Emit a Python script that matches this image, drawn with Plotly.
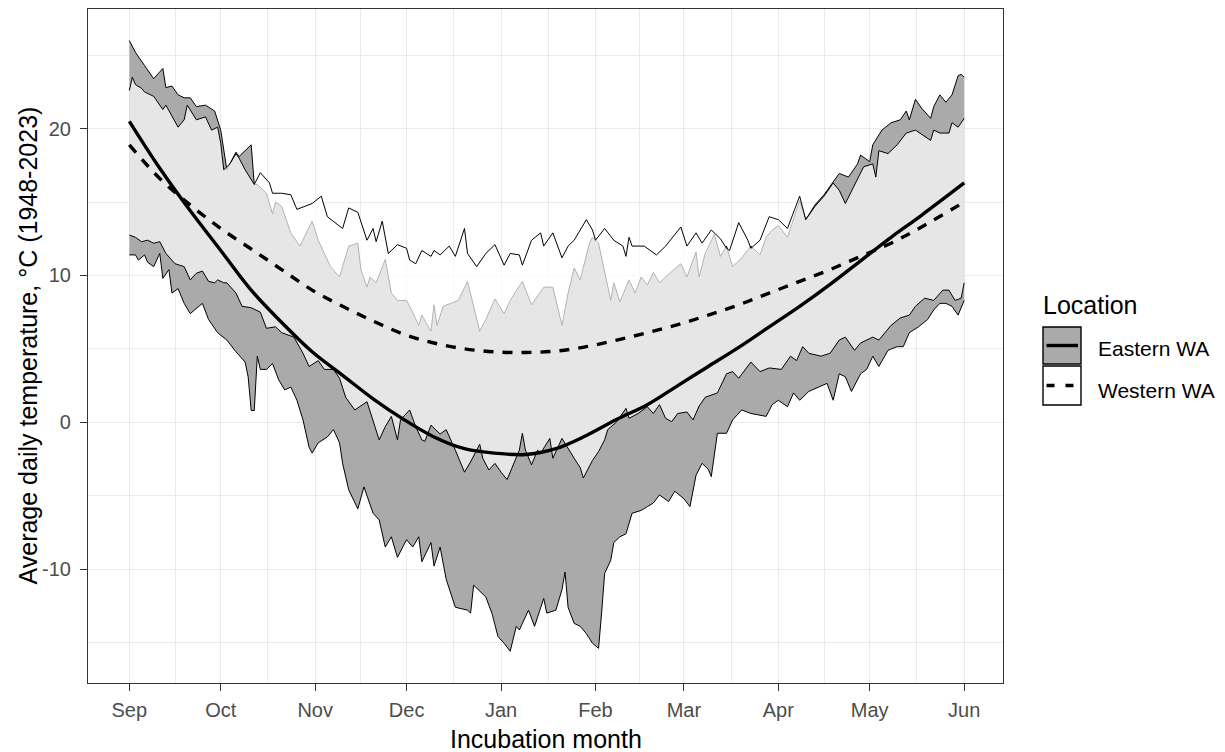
import plotly.graph_objects as go

# ---------------- data (day offset from 1 Sep; 1 Jun = day 274) ----------------
month_days = [0, 30, 61, 91, 122, 153, 182, 213, 243, 274]
month_labels = ["Sep", "Oct", "Nov", "Dec", "Jan", "Feb", "Mar", "Apr", "May", "Jun"]
y_ticks = [-10, 0, 10, 20]
y_minor = [-15, -5, 5, 15, 25]

east_hi_day = [0,1,2,5,8,11,12,14,16,18,20,22,25,28,30,32,35,36,40,41,42,45,47,48,50,53,56,60,62,66,
               69,72,75,76,78,79,81,84,86,88,91,93,95,96,99,100,101,103,108,111,115,117,120,123,125,129,132,136,139,142,
               144,146,148,151,152,154,158,159,161,164,166,168,170,172,174,176,181,183,186,187,189,192,194,196,198,201,204,207,209,211,
               213,216,220,222,225,228,231,233,236,239,240,243,244,247,250,253,255,256,258,260,263,264,266,268,270,272,273,274]
east_hi = [26.0,25.6,25.2,24.3,23.4,24.1,22.8,22.9,22.3,22.1,22.1,21.5,21.6,21.2,19.9,17.2,18.4,18.1,18.9,16.2,
           16.2,15.6,14.2,15.0,14.7,12.9,12.0,13.7,12.4,10.6,9.9,12.0,12.2,10.4,9.2,9.9,9.5,11.1,8.8,8.3,
           8.3,7.5,6.6,7.3,6.2,8.0,6.6,7.9,8.3,9.6,6.2,7.0,8.4,7.4,8.3,9.6,8.0,9.2,9.2,6.6,
           8.8,10.5,9.7,12.2,12.6,12.2,8.3,9.5,8.2,9.7,8.8,9.9,9.35,10.2,9.5,9.9,10.8,9.9,11.6,9.9,
           11.5,12.8,11.3,12.0,10.6,11.2,12.0,11.4,12.6,13.1,13.4,12.6,15.1,13.8,14.8,15.5,16.4,16.95,16.7,17.6,
           18.2,17.75,18.9,19.9,20.4,20.6,21.2,20.6,22.0,21.4,20.7,21.5,22.3,21.8,22.3,23.6,23.7,23.5]

east_lo_day = [0,2,3,5,6,8,10,11,13,14,16,18,20,24,26,29,32,35,38,39,40,41,42,43,45,47,49,51,53,55,
               57,59,60,62,65,67,69,70,72,75,77,80,82,84,86,88,91,93,95,96,99,100,102,104,107,111,112,113,117,119,
               121,123,125,127,128,131,133,136,137,140,142,143,144,146,148,150,152,154,155,156,158,159,161,163,165,168,170,172,174,177,
               179,182,184,186,188,190,191,193,196,198,201,204,209,211,213,216,218,220,223,226,229,231,233,235,237,240,242,244,246,249,
               252,254,256,259,262,264,266,268,270,272,274]
east_lo = [11.4,11.4,11.05,11.4,10.9,10.6,11.5,9.8,10.4,8.8,9.1,8.1,7.4,8.1,7.0,6.1,5.6,4.8,4.1,3.1,
           0.8,0.8,4.5,3.6,3.6,4.0,2.9,2.2,2.4,1.5,0.16,-1.7,-2.1,-1.4,-1.0,-0.5,-1.4,-2.8,-4.6,-5.9,
           -4.4,-6.2,-6.65,-8.5,-7.8,-9.2,-8.0,-8.5,-7.8,-9.5,-8.2,-9.8,-8.5,-10.7,-12.6,-12.8,-13.0,-11.1,-11.9,-13.0,
           -14.6,-15.05,-15.6,-13.9,-14.15,-12.8,-13.9,-12.0,-13.0,-12.8,-11.4,-10.2,-12.6,-13.7,-13.9,-14.4,-15.05,-15.4,-13.0,-10.3,
           -9.4,-8.2,-7.8,-7.6,-6.2,-6.0,-5.75,-5.5,-4.95,-5.4,-4.7,-5.2,-5.75,-3.6,-2.8,-3.2,-3.7,-0.75,-0.75,0.16,
           0.84,0.6,0.4,1.2,1.5,1.06,2.0,1.5,2.1,2.4,2.65,1.5,3.3,3.1,2.1,3.3,3.6,4.5,3.8,4.9,
           5.15,5.15,6.1,6.5,7.0,7.65,8.1,8.1,7.9,7.3,8.3]

west_hi_day = [0,1,2,4,5,8,11,12,16,18,19,22,25,27,29,30,31,33,35,36,38,41,43,46,47,50,53,55,60,63,
               65,70,72,75,78,80,81,83,85,88,91,92,94,96,99,100,102,105,107,110,111,114,117,120,123,125,128,129,132,135,
               136,139,142,144,146,148,150,152,153,156,159,162,163,164,165,169,173,176,181,183,186,188,191,194,196,197,200,203,204,207,
               210,213,216,220,222,225,228,231,233,235,239,241,244,245,246,249,252,255,258,263,264,266,269,270,272,274]
west_hi = [22.6,23.5,23.0,22.75,22.5,22.2,21.3,21.6,20.1,20.6,21.6,20.6,20.8,19.9,20.1,19.0,17.2,17.6,18.3,18.0,
           17.2,16.2,17.0,16.3,15.6,15.6,15.5,14.5,14.9,15.4,14.0,13.2,14.6,14.3,12.4,13.2,12.3,13.7,11.5,12.1,
           11.85,11.05,10.8,11.7,11.3,11.7,11.4,12.0,11.3,13.2,11.5,10.6,11.5,12.1,10.7,11.5,11.4,10.7,12.4,12.9,
           12.0,12.9,11.2,12.0,12.4,13.1,13.8,13.1,12.4,13.2,12.4,12.0,11.3,12.6,12.0,12.0,11.4,12.0,13.3,12.0,
           12.9,12.2,13.1,12.5,11.85,11.7,13.6,12.4,11.85,12.4,14.0,13.8,13.2,15.4,13.8,14.7,15.4,16.3,15.8,14.9,
           16.5,17.4,17.6,16.7,18.5,18.3,18.9,19.7,19.9,19.2,19.9,19.7,19.7,20.4,20.1,20.7]

west_lo_day = [0,2,4,6,8,10,12,15,18,19,20,22,24,26,28,29,31,32,35,37,40,43,45,48,50,54,57,59,62,64,
               67,69,71,74,78,82,84,86,88,89,92,94,96,97,99,102,104,107,110,112,113,115,116,118,120,122,124,126,128,129,
               130,132,134,135,138,139,142,146,148,149,152,154,156,157,160,163,164,167,170,172,174,176,178,180,183,185,187,189,193,196,
               198,200,204,207,210,214,217,219,221,223,227,230,233,235,238,240,244,246,250,253,256,258,261,264,267,269,271,273,274]
west_lo = [12.75,12.6,12.3,12.4,12.2,12.3,11.5,10.8,10.6,10.15,9.7,10.15,10.3,9.6,9.5,9.7,9.5,9.5,8.8,7.9,
           7.8,7.5,6.4,6.5,6.1,5.8,4.7,3.8,4.2,3.6,3.6,3.0,1.7,0.84,1.4,-1.2,-0.3,0.4,-1.2,0.16,
           0.84,-0.3,-1.2,-1.3,-0.2,-0.8,-0.5,-1.9,-3.4,-2.7,-2.3,-1.5,-2.45,-3.25,-2.8,-3.4,-3.9,-2.9,-1.9,-0.75,
           -1.9,-2.9,-1.9,-2.1,-1.1,-2.45,-1.1,-2.45,-3.1,-3.8,-2.6,-2.0,-1.2,-0.5,0.04,0.95,0.27,0.6,1.06,0.6,
           1.2,0.27,0.04,0.6,0.7,0.16,1.1,1.7,2.0,3.3,3.45,3.0,4.1,3.45,3.7,3.6,4.5,4.2,5.15,4.7,
           4.5,4.7,5.6,5.8,4.9,5.4,5.8,5.6,6.6,7.1,7.3,7.9,8.45,8.3,9.0,9.0,8.3,8.45,9.5]

smooth_day = [0,10,20,30,40,50,60,70,80,90,100,110,120,130,140,150,160,170,180,190,200,210,220,230,240,250,260,274]
east_smooth = [20.5,17.3,14.4,11.7,9.0,6.8,4.8,3.2,1.6,0.2,-1.0,-1.8,-2.1,-2.2,-1.8,-0.9,0.2,1.2,2.5,3.8,5.1,6.5,7.9,9.4,11.0,12.6,14.1,16.3]
west_smooth = [18.9,16.6,14.8,13.2,11.8,10.4,9.0,7.9,6.9,6.0,5.4,5.0,4.8,4.75,4.85,5.15,5.6,6.1,6.65,7.3,8.0,8.8,9.6,10.4,11.3,12.2,13.3,15.0]

locations = ["Eastern WA", "Western WA"]

# ---------------- styling / layout constants ----------------
W, H = 1225, 752
L, R, T, B = 88, 1003, 9, 683          # panel in pixels
EAST_FILL = "rgb(170,170,170)"
WEST_FILL = "rgba(255,255,255,0.7)"
FONT = "Liberation Sans, Arial, sans-serif"

def px(xp):
    return (xp - L) / (R - L)

def py(yp):
    return (B - yp) / (B - T)

fig = go.Figure()

# Eastern WA ribbon
fig.add_trace(go.Scatter(x=east_hi_day + east_lo_day[::-1], y=east_hi + east_lo[::-1],
                         fill="toself", fillcolor=EAST_FILL, mode="lines",
                         line=dict(width=0, color="rgba(0,0,0,0)"), hoverinfo="skip", showlegend=False))
for xs, ys in [(east_hi_day, east_hi), (east_lo_day, east_lo)]:
    fig.add_trace(go.Scatter(x=xs, y=ys, mode="lines", line=dict(color="black", width=1),
                             hoverinfo="skip", showlegend=False))

# Western WA ribbon (semi-transparent white over Eastern)
fig.add_trace(go.Scatter(x=west_hi_day + west_lo_day[::-1], y=west_hi + west_lo[::-1],
                         fill="toself", fillcolor=WEST_FILL, mode="lines",
                         line=dict(width=0, color="rgba(0,0,0,0)"), hoverinfo="skip", showlegend=False))
for xs, ys in [(west_hi_day, west_hi), (west_lo_day, west_lo)]:
    fig.add_trace(go.Scatter(x=xs, y=ys, mode="lines", line=dict(color="black", width=1),
                             hoverinfo="skip", showlegend=False))

# smooth lines
fig.add_trace(go.Scatter(x=smooth_day, y=east_smooth, mode="lines", line_shape="spline",
                         line=dict(color="black", width=3.4), hoverinfo="skip", showlegend=False))
fig.add_trace(go.Scatter(x=smooth_day, y=west_smooth, mode="lines", line_shape="spline",
                         line=dict(color="black", width=3.4, dash="10px,9px"), hoverinfo="skip", showlegend=False))

x_minor = [(a + b) / 2 for a, b in zip(month_days[:-1], month_days[1:])]
span = month_days[-1] - month_days[0]
y_lo, y_hi = -17.76, 28.15

axis_common = dict(showline=True, linecolor="#333333", linewidth=1.2, mirror=True,
                   ticks="outside", ticklen=7, tickwidth=1.2, tickcolor="#333333",
                   showgrid=True, gridcolor="#EBEBEB", gridwidth=1.2, zeroline=False,
                   tickfont=dict(family=FONT, size=20, color="#4D4D4D"))

fig.update_layout(
    width=W, height=H, autosize=False,
    margin=dict(l=L, r=W - R, t=T, b=H - B, pad=0),
    paper_bgcolor="white", plot_bgcolor="white",
    font=dict(family=FONT, color="black"),
    showlegend=False,
    xaxis=dict(range=[month_days[0] - 0.0495 * span, month_days[-1] + 0.0465 * span],
               tickmode="array", tickvals=month_days, ticktext=month_labels,
               ticklabelstandoff=2,
               minor=dict(tickmode="array", tickvals=x_minor, showgrid=True,
                          gridcolor="#EBEBEB", gridwidth=0.6, ticks=""),
               **axis_common),
    yaxis=dict(range=[y_lo, y_hi], tickmode="array", tickvals=y_ticks,
               ticktext=[str(v) for v in y_ticks], ticklabelstandoff=5,
               minor=dict(tickmode="array", tickvals=y_minor, showgrid=True,
                          gridcolor="#EBEBEB", gridwidth=0.6, ticks=""),
               **axis_common),
)

# axis titles
fig.add_annotation(text="Incubation month", xref="paper", yref="paper",
                   x=px(545.5), y=py(739), xanchor="center", yanchor="middle",
                   showarrow=False, font=dict(family=FONT, size=25, color="black"))
fig.add_annotation(text="Average daily temperature, °C (1948-2023)", xref="paper", yref="paper",
                   x=px(27.5), y=py(346), xanchor="center", yanchor="middle", textangle=-90,
                   showarrow=False, font=dict(family=FONT, size=25, color="black"))

# legend (drawn manually to mimic ggplot keys)
fig.add_annotation(text="Location", xref="paper", yref="paper", x=px(1041), y=py(305),
                   xanchor="left", yanchor="middle", showarrow=False,
                   font=dict(family=FONT, size=25, color="black"))
keys = [(locations[0], EAST_FILL, "solid", 327, 364, 348.5),
        (locations[1], "white", "8px,11px", 366, 405, 391)]
for name, fillc, dash, y0, y1, ty in keys:
    fig.add_shape(type="rect", xref="paper", yref="paper", x0=px(1043), x1=px(1081),
                  y0=py(y1), y1=py(y0), fillcolor=fillc, line=dict(color="black", width=1.4))
    ym = (y0 + y1) / 2
    fig.add_shape(type="line", xref="paper", yref="paper", x0=px(1046.5), x1=px(1078),
                  y0=py(ym), y1=py(ym), line=dict(color="black", width=3.4, dash=dash))
    fig.add_annotation(text=name, xref="paper", yref="paper", x=px(1096), y=py(ty),
                       xanchor="left", yanchor="middle", showarrow=False,
                       font=dict(family=FONT, size=21, color="black"))

fig.write_html("out.html")
